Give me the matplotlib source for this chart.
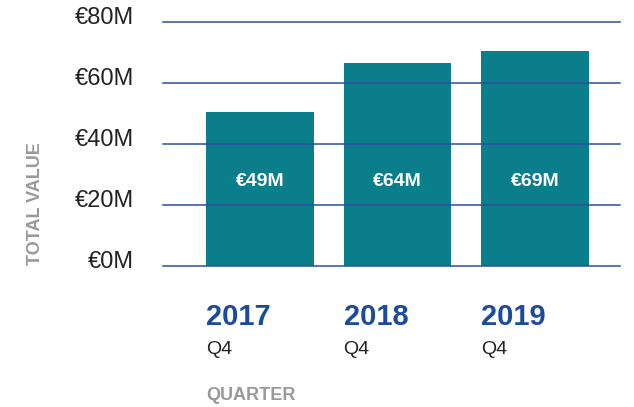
import matplotlib.pyplot as plt
import matplotlib.transforms as mtransforms

# Datos
years = ["2017", "2018", "2019"]
quarters = ["Q4", "Q4", "Q4"]
values = [50.4, 66.5, 70.4]
value_labels = ["€49M", "€64M", "€69M"]
ytick_values = [0, 20, 40, 60, 80]
ytick_labels = ["€0M", "€20M", "€40M", "€60M", "€80M"]

plt.rcParams['font.family'] = ['Liberation Sans', 'DejaVu Sans']

fig = plt.figure(figsize=(6.34, 4.07), dpi=100)
ax = fig.add_axes([163/634, 1 - 265.7/407, 457/634, 244/407])

bar_w = 0.785
x = list(range(len(years)))
ax.bar(x, values, width=bar_w, color="#0b7e8c", zorder=1)

# Lineas de la cuadricula por encima de las barras
for yv in ytick_values:
    ax.axhline(yv, color="#2a4f9a", lw=1.1, zorder=3, clip_on=False)

ax.set_xlim(-0.705, 2.618)
ax.set_ylim(0, 80)
ax.set_yticks(ytick_values)
ax.set_yticklabels(ytick_labels, fontsize=17, color="#222222")
ax.tick_params(axis="y", length=0, pad=21)
ax.set_xticks([])
for s in ax.spines.values():
    s.set_visible(False)

# Subimos un poco las etiquetas del eje y
offset = mtransforms.ScaledTranslation(0, 6/100, fig.dpi_scale_trans)
for lab in ax.get_yticklabels():
    lab.set_transform(lab.get_transform() + offset)

# Etiquetas de valor
for xi, lab in zip(x, value_labels):
    ax.text(xi, 27.5, lab, ha="center", va="center", color="white",
            fontsize=14, fontweight="bold", zorder=4)

# Etiquetas del eje x: anio y trimestre
trans = mtransforms.blended_transform_factory(ax.transData, fig.transFigure)
for xi, yr, q in zip(x, years, quarters):
    ax.text(xi - bar_w/2, 1 - 317/407, yr, transform=trans, ha="left", va="center",
            fontsize=21, fontweight="bold", color="#1d4b9b")
    ax.text(xi - bar_w/2, 1 - 350/407, q, transform=trans, ha="left", va="center",
            fontsize=14, color="#222222")

ax.text(-bar_w/2, 1 - 396/407, "QUARTER", transform=trans, ha="left", va="center",
        fontsize=13, fontweight="bold", color="#999999")

fig.text(36/634, 1 - 204/407, "TOTAL VALUE", rotation=90, ha="center", va="center",
         fontsize=13, fontweight="bold", color="#999999")

fig.savefig("out.png", dpi=100)
